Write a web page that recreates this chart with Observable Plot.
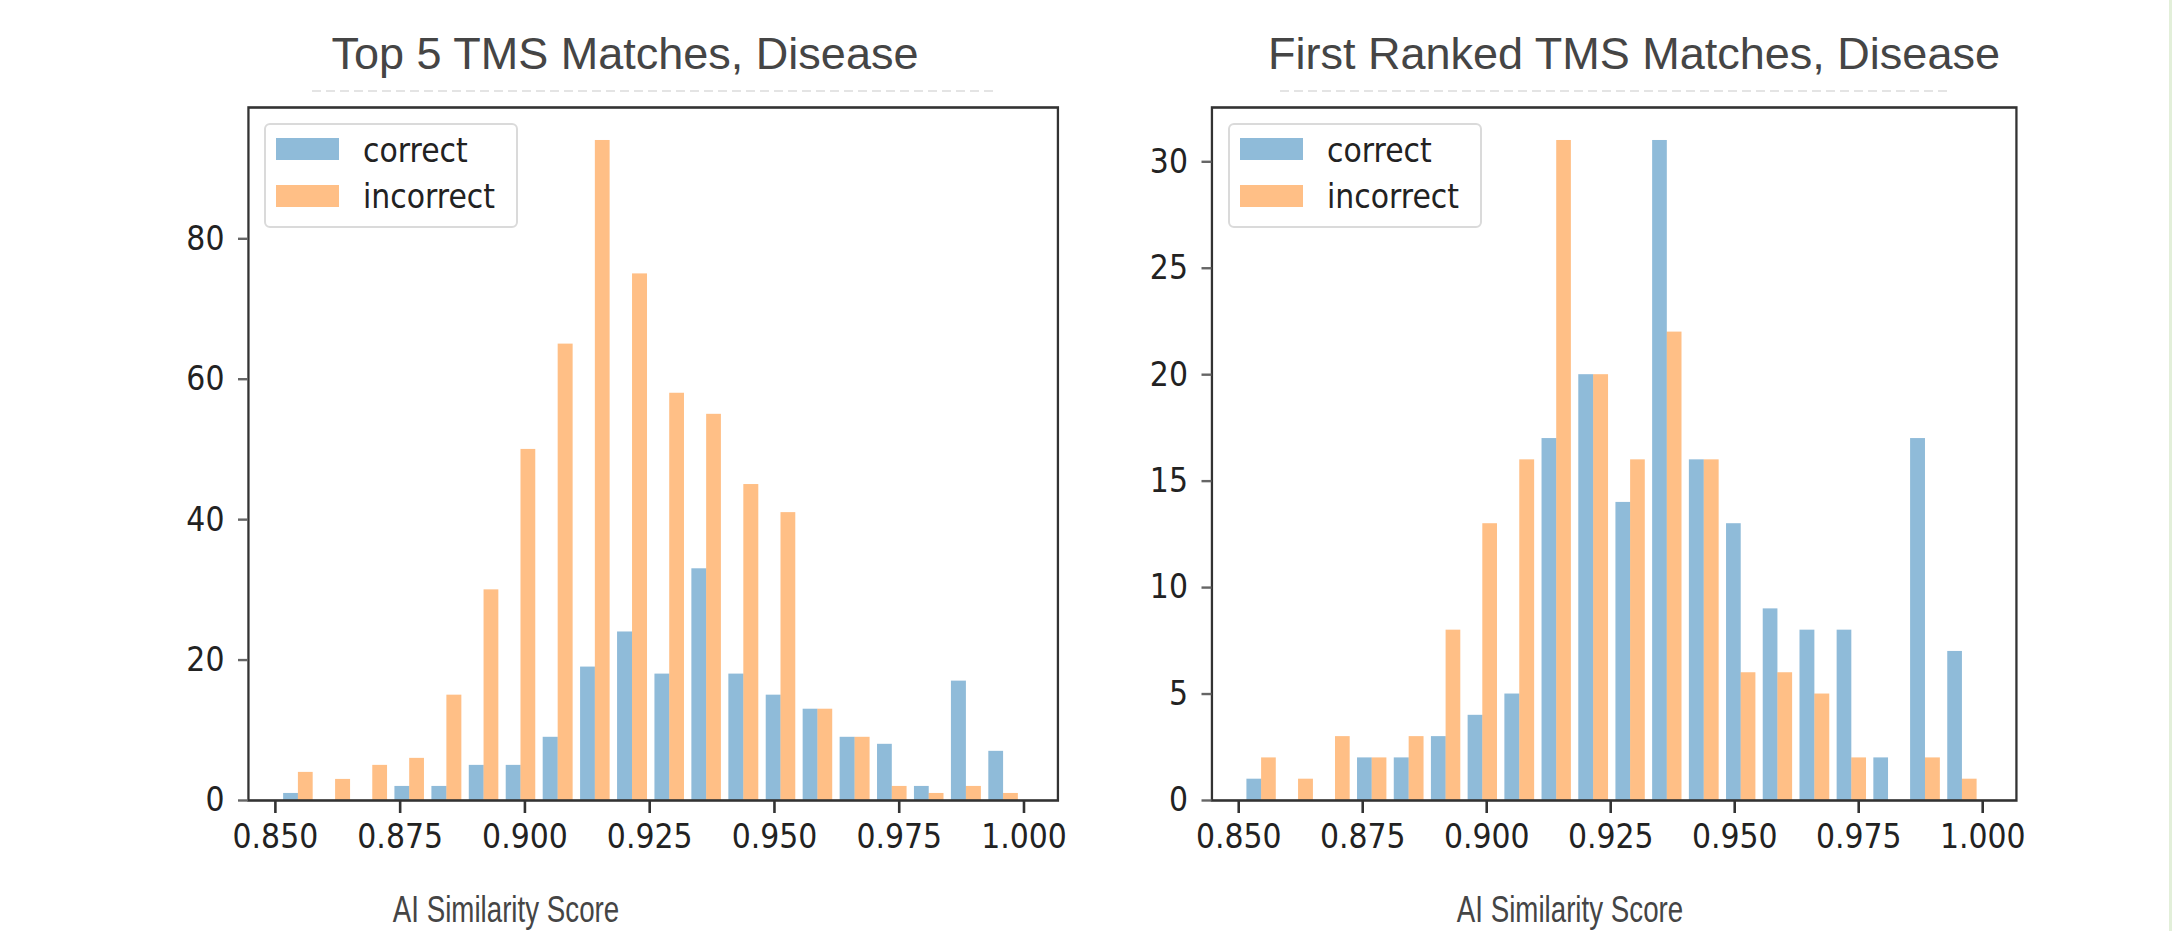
<!DOCTYPE html>
<html><head><meta charset="utf-8">
<script src="https://cdn.jsdelivr.net/npm/d3@7"></script>
<script src="https://cdn.jsdelivr.net/npm/@observablehq/plot@0.6"></script>
<style>
html,body{margin:0;padding:0;background:#fff;}
#page{position:relative;width:2172px;height:931px;overflow:hidden;background:#fff;}
.panel{position:absolute;top:0;transform:scaleX(0.88);transform-origin:0 0;}
.title{position:absolute;width:1000px;text-align:center;font-family:"Liberation Sans",Arial,sans-serif;font-size:45px;line-height:45px;color:#454545;white-space:nowrap;}
.xlabel{position:absolute;width:600px;text-align:center;font-family:"Liberation Sans",Arial,sans-serif;font-size:36px;line-height:36px;color:#454545;white-space:nowrap;transform:scaleX(0.77);}
.legend{position:absolute;width:254px;height:105px;background:#fff;}
.legend .border{position:absolute;left:0;top:0;right:0;bottom:0;border:2.5px solid #dadada;border-radius:6px;box-sizing:border-box;}
.legend .patch{position:absolute;left:12px;width:63px;height:22px;}
.legend .lab{position:absolute;left:99px;font-family:"DejaVu Sans",sans-serif;font-size:34px;line-height:34px;color:#222;transform:scaleX(0.88);transform-origin:0 0;white-space:nowrap;}
.ghostline{position:absolute;top:90px;height:2px;background:repeating-linear-gradient(90deg,#e4e4e4 0 9px,transparent 9px 14px);}
#stripe{position:absolute;right:0;top:0;width:3px;height:931px;background:#e2efd9;}
</style></head>
<body>
<div id="page"></div>
<script>
// ---- data ----
const binEdges = [0.8509, 0.8583, 0.8658, 0.8732, 0.8806, 0.8881, 0.8955, 0.9029, 0.9104, 0.9178,
  0.9253, 0.9327, 0.9401, 0.9476, 0.9550, 0.9624, 0.9699, 0.9773, 0.9847, 0.9922, 0.9996];
const top5Correct    = [1, 0, 0, 2, 2, 5, 5, 9, 19, 24, 18, 33, 18, 15, 13, 9, 8, 2, 17, 7];
const top5Incorrect  = [4, 3, 5, 6, 15, 30, 50, 65, 94, 75, 58, 55, 45, 41, 13, 9, 2, 1, 2, 1];
const firstCorrect   = [1, 0, 0, 2, 2, 3, 4, 5, 17, 20, 14, 31, 16, 13, 9, 8, 8, 2, 17, 7];
const firstIncorrect = [2, 1, 3, 2, 3, 8, 13, 16, 31, 20, 16, 22, 16, 6, 6, 5, 2, 0, 2, 1];
const seriesNames = ["correct", "incorrect"];
const seriesColors = ["#1f77b4", "#ff7f0e"];
const xTicks = [0.85, 0.875, 0.9, 0.925, 0.95, 0.975, 1.0];
const top5YTicks = [0, 20, 40, 60, 80];
const firstYTicks = [0, 5, 10, 15, 20, 25, 30];
const xDomain = [0.8446, 1.0068];
const titles = ["Top 5 TMS Matches, Disease", "First Ranked TMS Matches, Disease"];
const xLabel = "AI Similarity Score";

// ---- layout ----
const SX = 0.88;          // horizontal text compression of the original figure
const PANEL_W = 1086;
const page = document.getElementById("page");

function buildRows(correct, incorrect) {
  const rows = [];
  for (let i = 0; i < binEdges.length - 1; i++) {
    const lo = binEdges[i], hi = binEdges[i + 1], w = hi - lo;
    rows.push({series: seriesNames[0], x1: lo + 0.1 * w, x2: lo + 0.5 * w, count: correct[i]});
    rows.push({series: seriesNames[1], x1: lo + 0.5 * w, x2: lo + 0.9 * w, count: incorrect[i]});
  }
  return rows;
}

function panel({correct, incorrect, yTicks, pageLeft, frameLeft, frameRight}) {
  const rows = buildRows(correct, incorrect);
  const yTop = d3.max([...correct, ...incorrect]) * 1.05;
  const svg = Plot.plot({
    width: PANEL_W / SX,
    height: 860,
    marginLeft: (frameLeft - pageLeft) / SX,
    marginRight: (pageLeft + PANEL_W - frameRight) / SX,
    marginTop: 107,
    marginBottom: 60,
    style: {fontFamily: "'DejaVu Sans', sans-serif", fontSize: "34px", color: "#222", background: "transparent"},
    x: {domain: xDomain},
    y: {domain: [0, yTop]},
    color: {domain: seriesNames, range: seriesColors},
    marks: [
      Plot.rect(rows, {x1: "x1", x2: "x2", y1: () => 0, y2: "count", fill: "series", fillOpacity: 0.5}),
      Plot.frame({stroke: "#333", strokeWidth: 2.6}),
      Plot.axisX({ticks: xTicks, tickFormat: d3.format(".3f"), tickSize: 13, tickPadding: 10,
        stroke: "#333", strokeWidth: 2.6 / SX, fontSize: 34, label: null}),
      Plot.axisY({ticks: yTicks, tickFormat: d3.format("d"), tickSize: 10 / SX, tickPadding: 14 / SX,
        stroke: "#666", strokeWidth: 2.4, fontSize: 34, label: null})
    ]
  });
  svg.classList.add("panel");
  svg.style.left = pageLeft + "px";
  page.appendChild(svg);

  // legend (upper left, inside frame)
  const lg = document.createElement("div");
  lg.className = "legend";
  lg.style.left = (frameLeft + 16.3) + "px";
  lg.style.top = "123px";
  lg.innerHTML = `<div class="border"></div>
    <div class="patch" style="top:15px;background:${seriesColors[0]};opacity:0.5"></div>
    <div class="patch" style="top:62px;background:${seriesColors[1]};opacity:0.5"></div>
    <div class="lab" style="top:9.7px">${seriesNames[0]}</div>
    <div class="lab" style="top:56px">${seriesNames[1]}</div>`;
  page.appendChild(lg);
}

panel({correct: top5Correct, incorrect: top5Incorrect, yTicks: top5YTicks,
  pageLeft: 0, frameLeft: 248, frameRight: 1057.5});
panel({correct: firstCorrect, incorrect: firstIncorrect, yTicks: firstYTicks,
  pageLeft: PANEL_W, frameLeft: 1211.5, frameRight: 2016});

// faint remnant line under each title (decorative, no text)
[[312, 681], [1280, 668]].forEach(([l, w]) => {
  const g = document.createElement("div");
  g.className = "ghostline";
  g.style.left = l + "px";
  g.style.width = w + "px";
  page.appendChild(g);
});

function addText(cls, text, cx, top, w) {
  const d = document.createElement("div");
  d.className = cls;
  d.textContent = text;
  d.style.left = (cx - w / 2) + "px";
  d.style.top = top + "px";
  page.appendChild(d);
}
addText("title", titles[0], 625, 31, 1000);
addText("title", titles[1], 1634, 31, 1000);
addText("xlabel", xLabel, 506, 892, 600);
addText("xlabel", xLabel, 1570, 892, 600);

const stripe = document.createElement("div");
stripe.id = "stripe";
page.appendChild(stripe);
</script>
</body></html>
